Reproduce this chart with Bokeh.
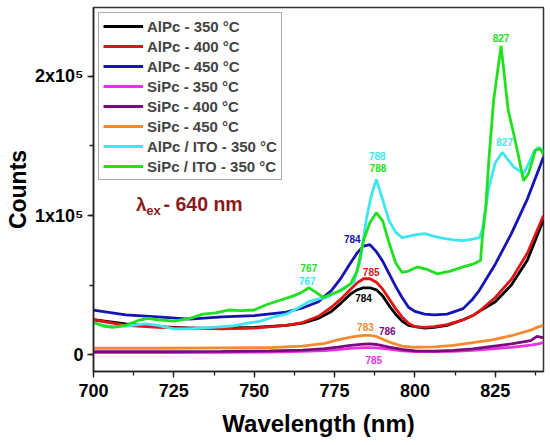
from bokeh.plotting import figure
from bokeh.models import Range1d, SingleIntervalTicker, Label, Legend, LegendItem
from bokeh.embed import file_html
from bokeh.resources import INLINE

# ---------------- data (counts in units of 1e3) ----------------
x_alpc = [700, 710, 720, 730, 740, 750, 760, 765, 770, 774, 777, 780, 782, 784, 786, 788,
          790, 792, 794, 796, 798, 800, 803, 806, 810, 815, 818, 820, 825, 830, 835, 840]
y_alpc350 = [25, 22, 20, 19, 19, 19.5, 21, 22.5, 26, 31, 37, 43.5, 46.5, 48, 48, 46.5,
             42, 35, 29, 24, 21, 20, 19, 19.5, 21, 25, 28, 31, 38, 50, 68, 97]
y_alpc400 = [25, 21, 19.5, 19, 18.5, 19, 21, 23, 27.5, 34, 40, 47, 51.5, 54.5, 54.5, 52,
             47, 40, 33, 27, 22.5, 20, 19.5, 20, 21.5, 25, 28, 31, 41, 54, 73, 100]
y_alpc450 = [32, 28.5, 27, 25.5, 27, 28, 30.5, 33.5, 38, 46, 55, 66, 73, 78, 79, 74,
             67, 58, 49, 41, 34, 31, 29, 28.5, 29, 33, 40, 46, 65, 87, 112, 142]

x_sipc = [700, 720, 740, 755, 765, 772, 776, 780, 784, 786, 788, 792, 796, 800, 806,
          812, 818, 824, 830, 836, 838, 840]
y_sipc350 = [1.3, 1.3, 1.5, 1.8, 2.2, 2.8, 3.5, 4.4, 5, 5, 4.8, 3.8, 2.6, 2, 2,
             2.3, 3, 4, 5.2, 6.8, 7.5, 8.5]
y_sipc400 = [2, 2, 2.2, 2.6, 3.2, 4.2, 5.3, 6.6, 7.5, 7.7, 7.2, 5.3, 3.6, 2.6, 2.5,
             3, 4, 5.8, 7.6, 10, 13, 12]
y_sipc450 = [4.5, 4.5, 4.8, 5, 6, 8, 10.5, 12.5, 13.7, 13.7, 13, 9, 6, 5.2, 5.5,
             6.5, 8.5, 10.5, 13.5, 17.5, 19.5, 21]

x_alpc_ito = [700, 703, 706, 710, 716, 720, 725, 730, 737, 743, 748, 752, 756, 760, 764,
              767, 770, 772, 775, 778, 781, 783, 785, 786.5, 788, 790, 792, 794, 796, 798,
              800, 803, 806, 809, 812, 815, 818, 820, 821, 822, 823, 825, 827.2, 829,
              830.7, 832, 833.8, 835.3, 837, 838.5, 840]
y_alpc_ito = [23, 21, 20, 20.5, 22, 21, 18.5, 18.5, 19.5, 20.5, 22.5, 24, 27, 29, 34,
              38, 40, 40.5, 44, 48, 52, 68, 99, 115, 126, 111, 96, 88, 84, 85,
              86, 87, 85, 83.5, 82.5, 82, 83, 84, 90, 105, 120, 138, 145.5, 140,
              135, 133, 130, 137, 146, 149, 146]

x_sipc_ito = [700, 703, 706, 710, 714, 717, 720, 725, 730, 734, 738, 742, 746, 750, 754,
              758, 762, 765, 767, 769, 771.5, 774, 777, 780, 782, 784, 786, 788, 790, 792,
              794, 796, 798, 800.7, 804, 807, 811, 815, 818, 820.4, 821, 822, 823, 824.5,
              826.8, 829, 830.7, 832.3, 833.8, 835.3, 837.5, 839, 840]
y_sipc_ito = [23, 20.5, 19.5, 21, 24.5, 26, 25, 24, 26, 29, 30, 32, 31.5, 32, 36,
              39, 42, 45, 48, 45, 41, 43.5, 46, 51, 60, 82, 95, 102, 96, 80,
              66, 59, 60, 63, 61, 58, 60, 63, 65, 67.6, 85, 105, 140, 183,
              222, 176, 159, 142, 125, 130, 147, 148, 144]

series_names = ["AlPc - 350 °C", "AlPc - 400 °C", "AlPc - 450 °C",
                "SiPc - 350 °C", "SiPc - 400 °C", "SiPc - 450 °C",
                "AlPc / ITO - 350 °C", "SiPc / ITO - 350 °C"]
series_colors = ["#000000", "#e01414", "#1414b4", "#e632e6",
                 "#7d0a7d", "#f5892d", "#3ee6f0", "#20e020"]
series_x = [x_alpc, x_alpc, x_alpc, x_sipc, x_sipc, x_sipc, x_alpc_ito, x_sipc_ito]
series_y = [y_alpc350, y_alpc400, y_alpc450, y_sipc350, y_sipc400, y_sipc450,
            y_alpc_ito, y_sipc_ito]

# peak labels: text, x (nm), y (counts/1e3), colour index
peak_text = ["827", "827", "788", "788", "784", "785", "784", "767", "767", "783", "786", "785"]
peak_x = [826.8, 827.9, 788.3, 788.5, 780.5, 786.4, 784.0, 767.0, 766.5, 784.6, 791.4, 787.2]
peak_y = [228, 153, 143, 134, 83, 59, 41, 62, 53, 19.6, 17, -4]
peak_series = [7, 6, 6, 7, 2, 1, 0, 7, 6, 5, 4, 3]

FONT = "Liberation Sans"

p = figure(width=550, height=445, output_backend="svg", toolbar_location=None,
           x_range=Range1d(700, 840), y_range=Range1d(-12230, 249640),
           min_border_left=93, min_border_right=7, min_border_top=7, min_border_bottom=74)
p.xgrid.visible = False
p.ygrid.visible = False
p.outline_line_color = "#333333"
p.outline_line_width = 1.5
p.background_fill_color = "white"
p.border_fill_color = "white"

renderers = []
for xs, ys, c in zip(series_x, series_y, series_colors):
    r = p.line([v for v in xs], [v * 1000 for v in ys], line_color=c, line_width=2.8)
    renderers.append(r)

legend = Legend(items=[LegendItem(label=n, renderers=[r]) for n, r in zip(series_names, renderers)],
                location="top_left")
legend.margin = 5
legend.padding = 4
legend.spacing = 2
legend.glyph_width = 40
legend.glyph_height = 18
legend.label_height = 18
legend.label_standoff = 4
legend.label_text_font = FONT
legend.label_text_font_style = "bold"
legend.label_text_font_size = "15px"
legend.border_line_color = "#555555"
legend.border_line_width = 1
legend.background_fill_alpha = 1
p.add_layout(legend)

for t, x, y, si in zip(peak_text, peak_x, peak_y, peak_series):
    p.add_layout(Label(x=x, y=y * 1000, text=t, text_color=series_colors[si],
                       text_font=FONT, text_font_style="bold", text_font_size="10px",
                       text_align="center", text_baseline="middle"))

# excitation annotation
p.add_layout(Label(x=713.2, y=108000, text="λ", text_color="#8b1a1a", text_font=FONT,
                   text_font_style="bold", text_font_size="19px", text_baseline="middle"))
p.add_layout(Label(x=716.4, y=103300, text="ex", text_color="#8b1a1a", text_font=FONT,
                   text_font_style="bold", text_font_size="13px", text_baseline="middle"))
p.add_layout(Label(x=721.8, y=108000, text="- 640 nm", text_color="#8b1a1a", text_font=FONT,
                   text_font_style="bold", text_font_size="19.5px", text_baseline="middle"))

# axes
xa = p.xaxis[0]
xa.ticker = SingleIntervalTicker(interval=25, num_minor_ticks=2)
xa.axis_label = "Wavelength (nm)"
ya = p.yaxis[0]
ya.ticker = SingleIntervalTicker(interval=100000, num_minor_ticks=2)
ya.major_label_overrides = {0: "0", 100000: "1x10⁵", 200000: "2x10⁵"}
ya.axis_label = "Counts"
for ax in (xa, ya):
    ax.axis_line_color = "#222222"
    ax.axis_line_width = 1.5
    ax.major_tick_line_color = "#222222"
    ax.minor_tick_line_color = "#222222"
    ax.major_tick_line_width = 1.3
    ax.minor_tick_line_width = 1.3
    ax.major_tick_in = 0
    ax.major_tick_out = 6
    ax.minor_tick_in = 0
    ax.minor_tick_out = 4
    ax.major_label_text_font = FONT
    ax.major_label_text_font_style = "bold"
    ax.major_label_text_font_size = "18px"
    ax.major_label_text_color = "black"
    ax.axis_label_text_font = FONT
    ax.axis_label_text_font_style = "bold"
    ax.axis_label_text_color = "black"
xa.axis_label_text_font_size = "24px"
ya.axis_label_text_font_size = "23px"
xa.major_label_standoff = 6
xa.axis_label_standoff = 10
ya.major_label_standoff = 4
ya.axis_label_standoff = 1

open("out.html", "w").write(file_html(p, INLINE))
